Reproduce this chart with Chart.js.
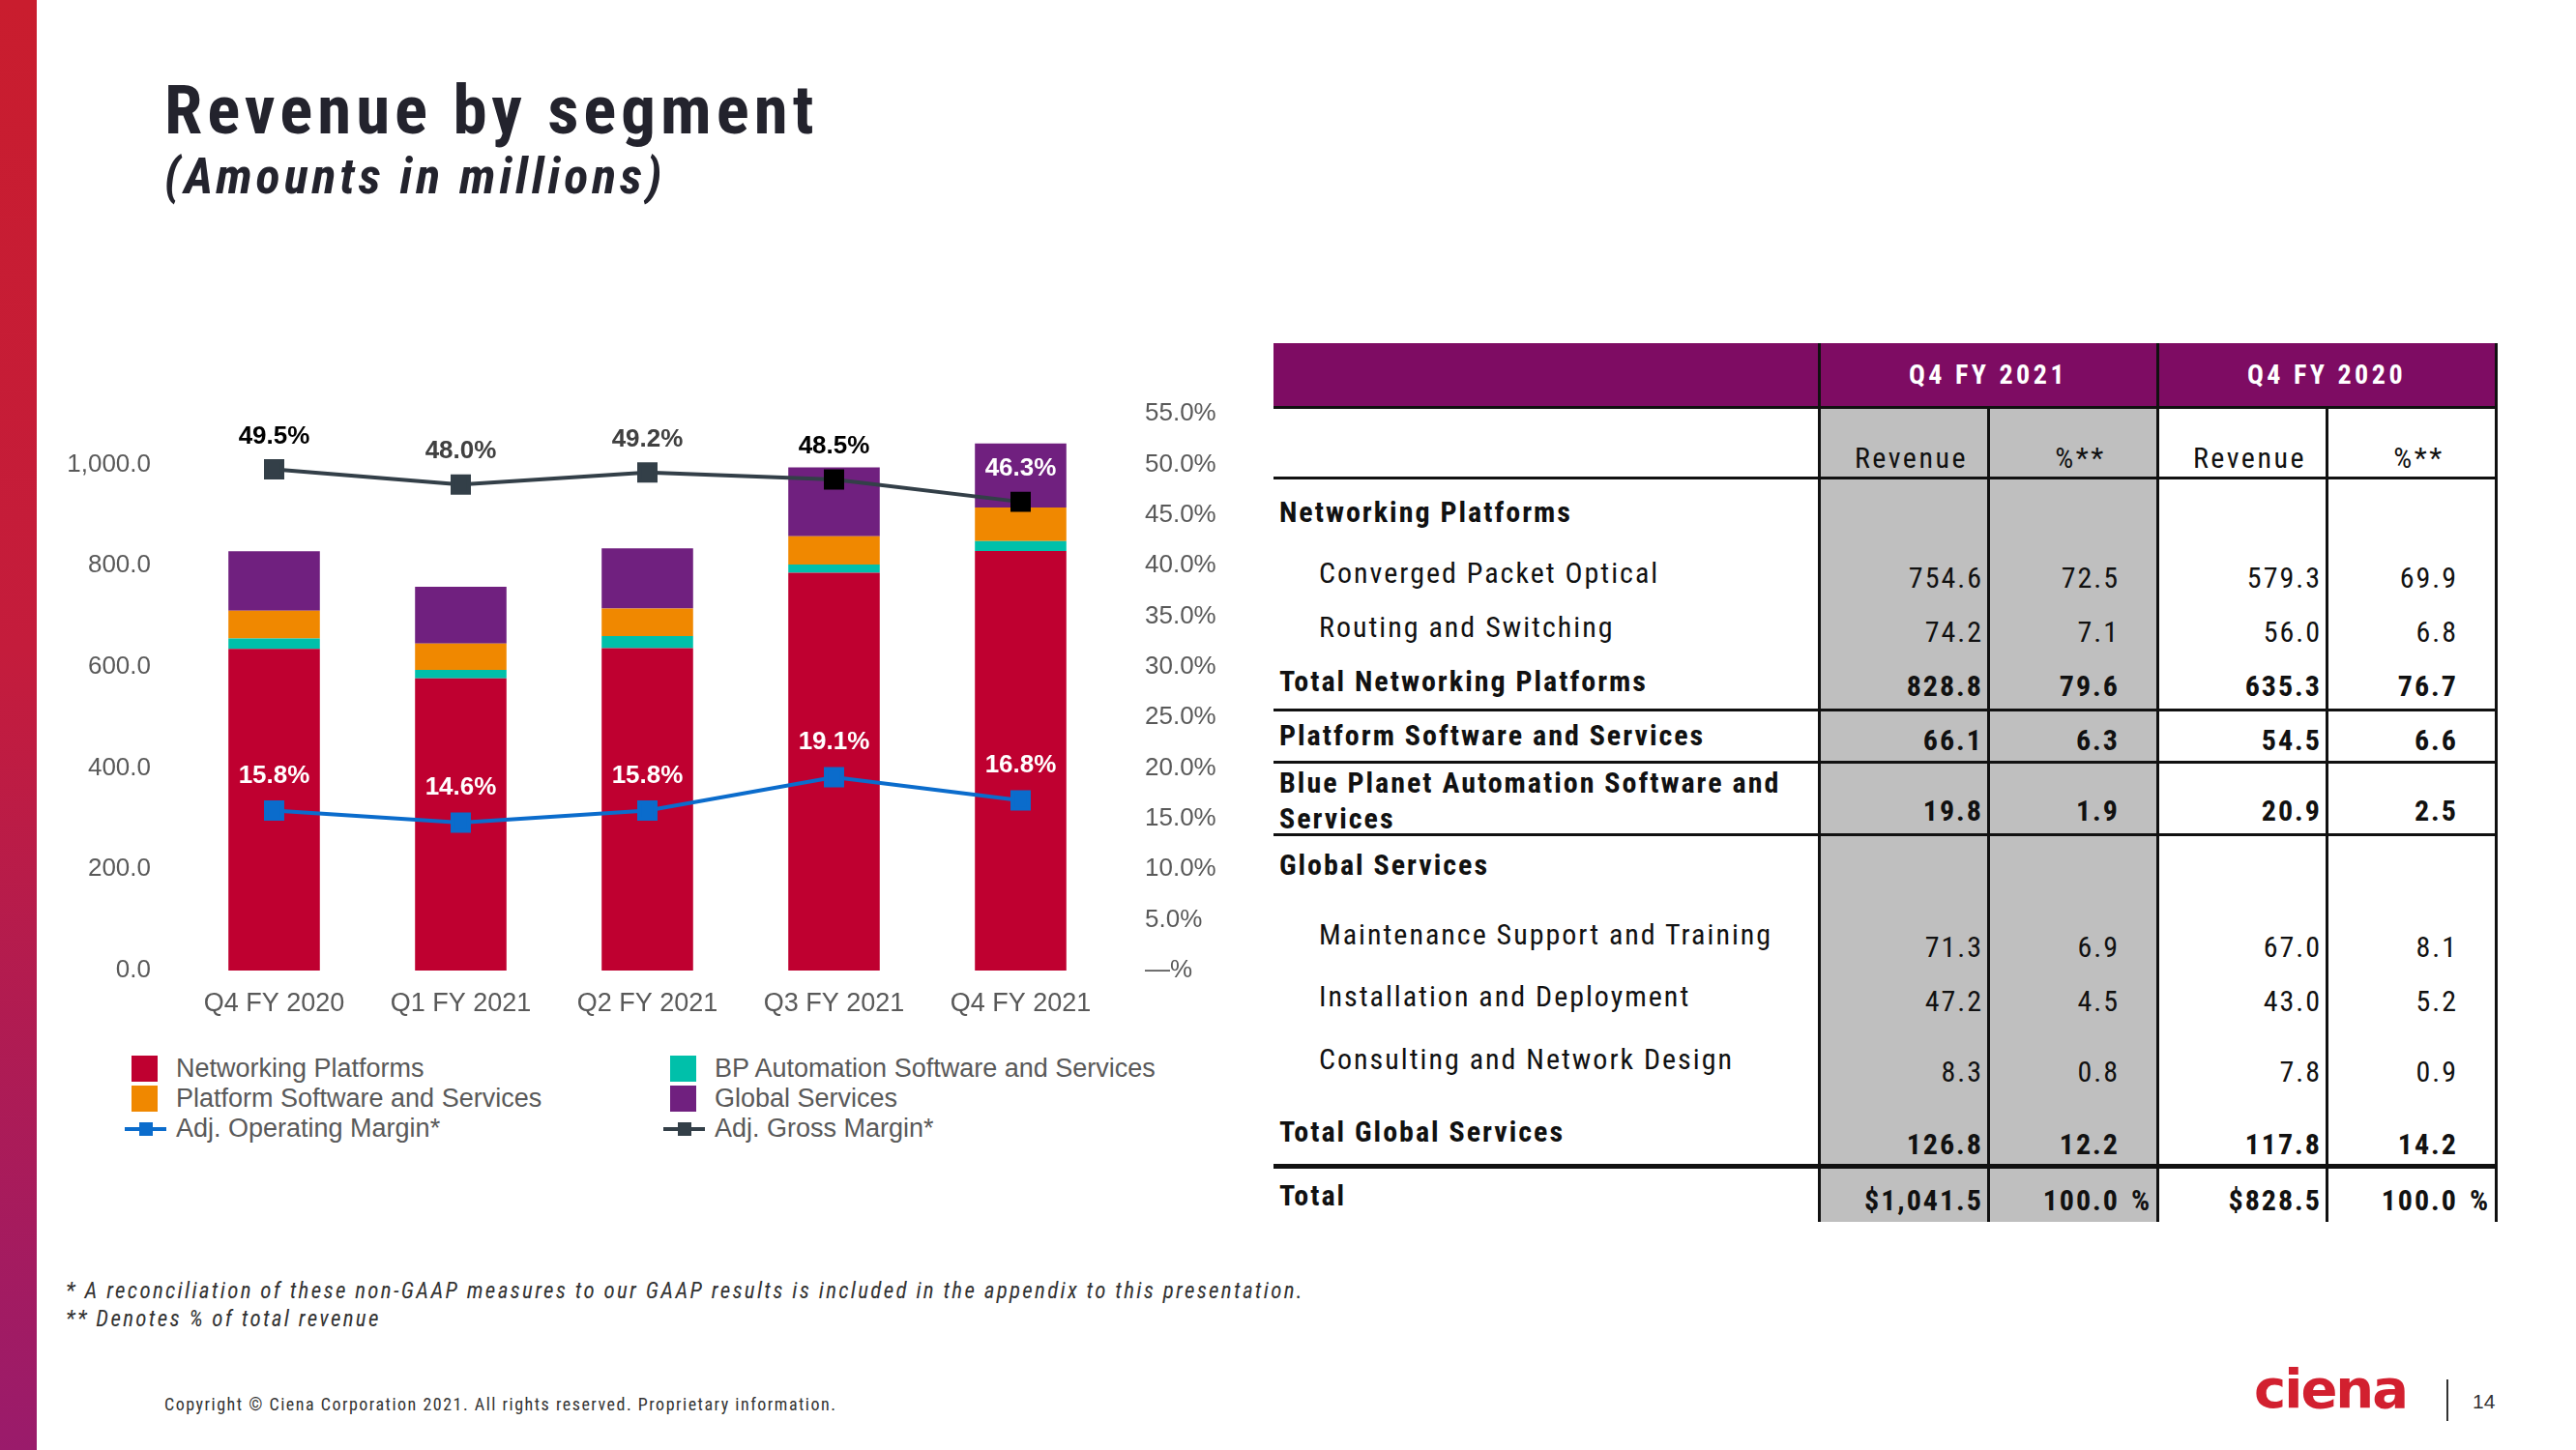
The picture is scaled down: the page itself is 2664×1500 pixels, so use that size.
<!DOCTYPE html>
<html>
<head>
<meta charset="utf-8">
<script src="https://cdn.jsdelivr.net/npm/chart.js@4.4.1/dist/chart.umd.min.js"></script>
<style>
  body { margin: 0; width: 2664px; height: 1500px; position: relative; background: #fff; overflow: hidden; font-family: "Liberation Sans", Arial, sans-serif; }
  .narrow { font-family: "Liberation Sans Narrow", "Arial Narrow", "Roboto Condensed", "Liberation Sans", sans-serif; }
  .abs { position: absolute; }
  #sidebar { left: 0; top: 0; width: 38px; height: 1500px; background: linear-gradient(#c91d2e, #c41c3c 45%, #9a1b6b); }
  #title { left: 170px; top: 72px; font-size: 71px; font-weight: bold; letter-spacing: 5px; color: #23232d; }
  #subtitle { left: 170px; top: 152px; font-size: 52px; font-weight: bold; font-style: italic; letter-spacing: 4px; color: #23232d; }
  #chartWrap { left: 40px; top: 380px; width: 1222px; height: 690px; }
  #legend { left: 129px; top: 1090px; display: grid; grid-template-columns: 557px 620px; }
  .lg { display: flex; align-items: center; height: 31px; font-size: 27px; color: #595959; }
  .lg .icon { width: 53px; height: 31px; position: relative; }
  .cell { position: absolute; white-space: nowrap; font-size: 30px; letter-spacing: 2px; color: #111; line-height: 36px; }
  .num { text-align: right; }
  .foot { font-style: italic; font-size: 23px; letter-spacing: 2.3px; color: #333; }
</style>
</head>
<body>
<div id="sidebar" class="abs"></div>
<div id="title" class="abs narrow">Revenue by segment</div>
<div id="subtitle" class="abs narrow">(Amounts in millions)</div>
<div id="chartWrap" class="abs"><canvas id="segChart"></canvas></div>
<div id="legend" class="abs"></div>
<div id="table" class="abs narrow" style="left:0;top:0;"></div>
<div class="abs narrow foot" style="left:68px;top:1322px;">* A reconciliation of these non-GAAP measures to our GAAP results is included in the appendix to this presentation.</div>
<div class="abs narrow foot" style="left:68px;top:1351px;">** Denotes % of total revenue</div>
<div class="abs narrow" style="left:170px;top:1442px;font-size:18px;letter-spacing:1.5px;color:#333;">Copyright © Ciena Corporation 2021. All rights reserved. Proprietary information.</div>
<div class="abs" style="left:2331px;top:1404px;font-family:'DejaVu Sans';font-weight:bold;font-size:56px;letter-spacing:-2px;color:#d2202f;">ciena</div>
<div class="abs" style="left:2530px;top:1427px;width:2px;height:43px;background:#333;"></div>
<div class="abs" style="left:2557px;top:1438px;font-size:21px;color:#333;">14</div>

<script>
// CHART DATA
const quarters = ["Q4 FY 2020", "Q1 FY 2021", "Q2 FY 2021", "Q3 FY 2021", "Q4 FY 2021"];
const networkingPlatforms = [635.3, 577, 637, 786, 828.8];
const bpAutomation = [20.9, 17, 24, 16, 19.8];
const platformSoftware = [54.5, 52, 54, 56, 66.1];
const globalServices = [117.8, 112, 119, 136, 126.8];
const adjOperatingMargin = [15.8, 14.6, 15.8, 19.1, 16.8];
const adjGrossMargin = [49.5, 48.0, 49.2, 48.5, 46.3];
const revenueTicks = [0, 200, 400, 600, 800, 1000];

// TABLE DATA
const tableLabels = [
  "Networking Platforms", "Converged Packet Optical", "Routing and Switching", "Total Networking Platforms",
  "Platform Software and Services", "Blue Planet Automation Software and Services", "Global Services",
  "Maintenance Support and Training", "Installation and Deployment", "Consulting and Network Design",
  "Total Global Services", "Total"
];
const revenue2021 = ["", "754.6", "74.2", "828.8", "66.1", "19.8", "", "71.3", "47.2", "8.3", "126.8", "$1,041.5"];
const pct2021 = ["", "72.5", "7.1", "79.6", "6.3", "1.9", "", "6.9", "4.5", "0.8", "12.2", "100.0 %"];
const revenue2020 = ["", "579.3", "56.0", "635.3", "54.5", "20.9", "", "67.0", "43.0", "7.8", "117.8", "$828.5"];
const pct2020 = ["", "69.9", "6.8", "76.7", "6.6", "2.5", "", "8.1", "5.2", "0.9", "14.2", "100.0 %"];
const periodHeaders = ["Q4 FY 2021", "Q4 FY 2020"];
const columnHeaders = ["Revenue", "%**"];

const FONT = '"Liberation Sans", Arial, sans-serif';

// labels drawn above the margin points
const pointLabels = {
  id: "pointLabels",
  afterDatasetsDraw(chart) {
    const ctx = chart.ctx;
    chart.data.datasets.forEach((ds, i) => {
      if (!ds.labelColors) return;
      chart.getDatasetMeta(i).data.forEach((pt, j) => {
        ctx.save();
        ctx.font = "bold 26px " + FONT;
        ctx.fillStyle = ds.labelColors[j];
        ctx.textAlign = "center";
        ctx.textBaseline = "middle";
        ctx.fillText(ds.data[j].toFixed(1) + "%", pt.x, pt.y - ds.labelOffset);
        ctx.restore();
      });
    });
  }
};

const chart = new Chart(document.getElementById("segChart"), {
  type: "bar",
  data: {
    labels: quarters,
    datasets: [
      { label: "Networking Platforms", data: networkingPlatforms, backgroundColor: "#bf0030", order: 2 },
      { label: "BP Automation Software and Services", data: bpAutomation, backgroundColor: "#00c0aa", order: 2 },
      { label: "Platform Software and Services", data: platformSoftware, backgroundColor: "#f08800", order: 2 },
      { label: "Global Services", data: globalServices, backgroundColor: "#70207f", order: 2 },
      {
        type: "line", label: "Adj. Operating Margin*", data: adjOperatingMargin, yAxisID: "y2", order: 0,
        borderColor: "#0b6ccc", backgroundColor: "#0b6ccc", borderWidth: 4,
        pointStyle: "rect", pointRadius: 12, pointHoverRadius: 12,
        labelColors: ["#fff", "#fff", "#fff", "#fff", "#fff"], labelOffset: 36
      },
      {
        type: "line", label: "Adj. Gross Margin*", data: adjGrossMargin, yAxisID: "y2", order: 0,
        borderColor: "#333f48", borderWidth: 4,
        pointBackgroundColor: ["#333f48", "#333f48", "#333f48", "#000", "#000"],
        pointBorderColor: ["#333f48", "#333f48", "#333f48", "#000", "#000"],
        pointStyle: "rect", pointRadius: 12, pointHoverRadius: 12,
        labelColors: ["#000", "#404040", "#404040", "#000", "#fff"], labelOffset: 34
      }
    ]
  },
  options: {
    responsive: true,
    maintainAspectRatio: false,
    animation: false,
    layout: { padding: { top: 48 } },
    plugins: { legend: { display: false }, tooltip: { enabled: false } },
    datasets: { bar: { categoryPercentage: 1, barPercentage: 0.49 } },
    scales: {
      x: {
        stacked: true,
        grid: { display: false, drawTicks: false },
        border: { display: false },
        ticks: { color: "#595959", font: { size: 27, family: FONT }, padding: 18 },
        afterFit: s => { s.height = 66; }
      },
      y: {
        stacked: true, position: "left", min: 0, max: 1100,
        grid: { display: false, drawTicks: false },
        border: { display: false },
        afterBuildTicks: s => { s.ticks = revenueTicks.map(v => ({ value: v })); },
        ticks: {
          color: "#595959", font: { size: 26, family: FONT }, padding: 31,
          callback: v => v.toLocaleString("en-US", { minimumFractionDigits: 1, maximumFractionDigits: 1 })
        },
        afterFit: s => { s.width = 147; }
      },
      y2: {
        position: "right", min: 0, max: 55,
        grid: { display: false, drawTicks: false },
        border: { display: false },
        ticks: {
          stepSize: 5, color: "#595959", font: { size: 26, family: FONT }, padding: 32,
          callback: v => v === 0 ? "—%" : v.toFixed(1) + "%"
        },
        afterFit: s => { s.width = 110; }
      }
    }
  },
  plugins: [pointLabels]
});

// LEGEND (two columns, row-major like the original)
const legend = document.getElementById("legend");
chart.data.datasets.forEach(ds => {
  let icon;
  if (ds.type === "line") {
    icon = `<div class="icon"><div class="abs" style="left:0;top:14px;width:43px;height:4px;background:${ds.borderColor}"></div>
            <div class="abs" style="left:15px;top:9px;width:14px;height:14px;background:${ds.borderColor}"></div></div>`;
  } else {
    icon = `<div class="icon"><div class="abs" style="left:7px;top:2px;width:27px;height:27px;background:${ds.backgroundColor}"></div></div>`;
  }
  legend.innerHTML += `<div class="lg">${icon}<span>${ds.label}</span></div>`;
});

// TABLE
const T = { left: 1317, right: 2581, top: 355, head: 421, sub: 494, bottom: 1264 };
const colX = [1881, 2056, 2231, 2406];
const rowLabelY = [530, 593, 649, 705, 761, 809, 895, 967, 1031, 1096, 1171, 1237];
const rowNumY = [530, 598, 654, 710, 766, 839, 895, 980, 1036, 1109, 1184, 1242];
const rowBold = [true, false, false, true, true, true, true, false, false, false, true, true];
const rowIndent = [false, true, true, false, false, false, false, true, true, true, false, false];
const hLines = [[421, 3], [494, 3], [734, 3], [788, 3], [863, 3], [1206, 5]];

let html = "";
const box = (x, y, w, h, c) => `<div class="abs" style="left:${x}px;top:${y}px;width:${w}px;height:${h}px;background:${c}"></div>`;
html += box(T.left, T.top, T.right - T.left, T.head - T.top, "#7e0c63");
html += box(colX[0], T.head, colX[2] - colX[0], T.bottom - T.head, "#bfbfbf");
hLines.forEach(([y, w]) => { html += box(T.left, y - Math.floor(w / 2), T.right - T.left + 2, w, "#111"); });
html += box(colX[0] - 1, T.top, 3, T.bottom - T.top, "#111");
html += box(colX[2] - 1, T.top, 3, T.bottom - T.top, "#111");
html += box(T.right - 1, T.top, 3, T.bottom - T.top, "#111");
html += box(colX[1] - 1, T.head, 3, T.bottom - T.head, "#111");
html += box(colX[3] - 1, T.head, 3, T.bottom - T.head, "#111");

periodHeaders.forEach((p, k) => {
  const x0 = colX[k * 2], x1 = k === 0 ? colX[2] : T.right;
  html += `<div class="cell" style="left:${x0}px;width:${x1 - x0}px;top:${388 - 18}px;text-align:center;color:#fff;font-weight:bold;font-size:28px;letter-spacing:3.5px;">${p}</div>`;
});
[colX[0], colX[1], colX[2], colX[3]].forEach((x0, k) => {
  const x1 = k === 3 ? T.right : [colX[1], colX[2], colX[3]][k];
  html += `<div class="cell" style="left:${x0 + 12}px;width:${x1 - x0 - 8}px;top:${474 - 18}px;text-align:center;letter-spacing:2.5px;">${columnHeaders[k % 2]}</div>`;
});

tableLabels.forEach((lab, r) => {
  const weight = rowBold[r] ? "bold" : "normal";
  const lx = rowIndent[r] ? 1364 : 1323;
  const wrap = r === 5 ? "white-space:normal;width:555px;line-height:37px;" : "";
  html += `<div class="cell" style="left:${lx}px;top:${rowLabelY[r] - 18}px;font-weight:${weight};${wrap}">${lab}</div>`;
  const cols = [[revenue2021[r], 2051], [pct2021[r], 2192], [revenue2020[r], 2401], [pct2020[r], 2542]];
  cols.forEach(([v, rx]) => {
    if (!v) return;
    let txt = v, pctSign = "";
    if (v.endsWith(" %")) { txt = v.slice(0, -2); pctSign = "%"; }
    html += `<div class="cell num" style="left:${rx - 200}px;width:200px;top:${rowNumY[r] - 18}px;font-weight:${weight};">${txt}</div>`;
    if (pctSign) html += `<div class="cell" style="left:${rx + 12}px;top:${rowNumY[r] - 18}px;font-weight:${weight};">%</div>`;
  });
});
document.getElementById("table").innerHTML = html;
</script>
</body>
</html>
